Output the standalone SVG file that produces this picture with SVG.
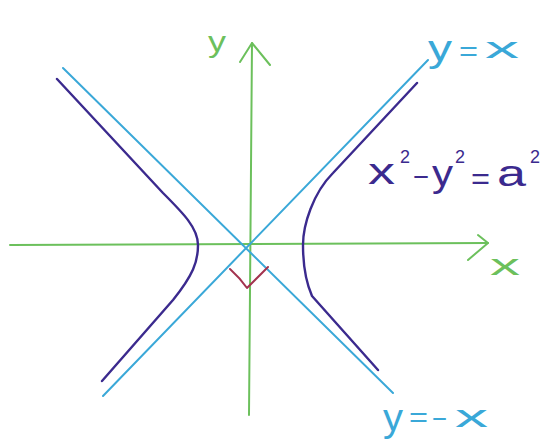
<svg xmlns="http://www.w3.org/2000/svg" width="544" height="444" viewBox="0 0 544 444">
<style>
.axis{stroke:#6cc05c;stroke-width:2;fill:none;stroke-linecap:round;stroke-linejoin:round}
.asym{stroke:#3aa8d8;stroke-width:2;fill:none;stroke-linecap:round}
.hyp{stroke:#3b2a8e;stroke-width:2.4;fill:none;stroke-linecap:round;stroke-linejoin:round}
.ra{stroke:#a3334f;stroke-width:2;fill:none;stroke-linecap:round;stroke-linejoin:round}
.t{font-family:"Liberation Sans","DejaVu Sans",sans-serif}
.tg{fill:#6cc05c}
.tb{fill:#3aa8d8}
.tp{fill:#3b2a8e}
</style>
<rect width="544" height="444" fill="#ffffff"/>
<g id="connectors">
  <g id="x-axis"><path class="axis" d="M10,245 L488,243"/><path class="axis" d="M478,235 L488,243 L468,260"/></g>
  <g id="y-axis"><path class="axis" d="M249,415 L252,43"/><path class="axis" d="M240,62 L252,43 L270,65"/></g>
  <g id="asymptote-pos"><path class="asym" d="M103,396 L428,60"/></g>
  <g id="asymptote-neg"><path class="asym" d="M63,68 L393,393"/></g>
  <g id="branch-left"><path class="hyp" d="M57,79 L163,193 C183,213 198,228 198,245 C198,262 193,275 173,300 L102,381"/></g>
  <g id="branch-right"><path class="hyp" d="M417,83 L333,173 C313,193 303,225 303,245 C303,262 305,280 312,296 L378,370"/></g>
  <g id="right-angle"><path class="ra" d="M230,269 Q240,278 247,288 L268,267"/></g>
</g>
<g id="label-y"><text class="t tg" x="208" y="52" font-size="30" textLength="18" lengthAdjust="spacingAndGlyphs">y</text></g>
<g id="label-x"><text class="t tg" x="490" y="275" font-size="30" textLength="30" lengthAdjust="spacingAndGlyphs">x</text></g>
<g id="label-yx" class="t tb">
  <text x="428" y="61" font-size="36" textLength="24" lengthAdjust="spacingAndGlyphs">y</text>
  <text x="459" y="61" font-size="28" textLength="19" lengthAdjust="spacingAndGlyphs">=</text>
  <text x="485" y="58" font-size="29" textLength="34" lengthAdjust="spacingAndGlyphs">x</text>
</g>
<g id="label-ynx" class="t tb">
  <text x="383" y="431" font-size="38" textLength="20" lengthAdjust="spacingAndGlyphs">y</text>
  <text x="409" y="427" font-size="28" textLength="19" lengthAdjust="spacingAndGlyphs">=</text>
  <text x="432" y="428" font-size="28" textLength="15" lengthAdjust="spacingAndGlyphs">−</text>
  <text x="455" y="427" font-size="32" textLength="33" lengthAdjust="spacingAndGlyphs">x</text>
</g>
<g id="label-eq" class="t tp">
  <text x="368" y="184" font-size="36" textLength="27" lengthAdjust="spacingAndGlyphs">x</text>
  <text x="400" y="163" font-size="18">2</text>
  <text x="413" y="187" font-size="30" textLength="16" lengthAdjust="spacingAndGlyphs">−</text>
  <text x="432" y="186" font-size="36" textLength="21" lengthAdjust="spacingAndGlyphs">y</text>
  <text x="455" y="163" font-size="18">2</text>
  <text x="471" y="189" font-size="30" textLength="19" lengthAdjust="spacingAndGlyphs">=</text>
  <text x="497" y="186" font-size="36" textLength="29" lengthAdjust="spacingAndGlyphs">a</text>
  <text x="530" y="163" font-size="18">2</text>
</g>
</svg>
